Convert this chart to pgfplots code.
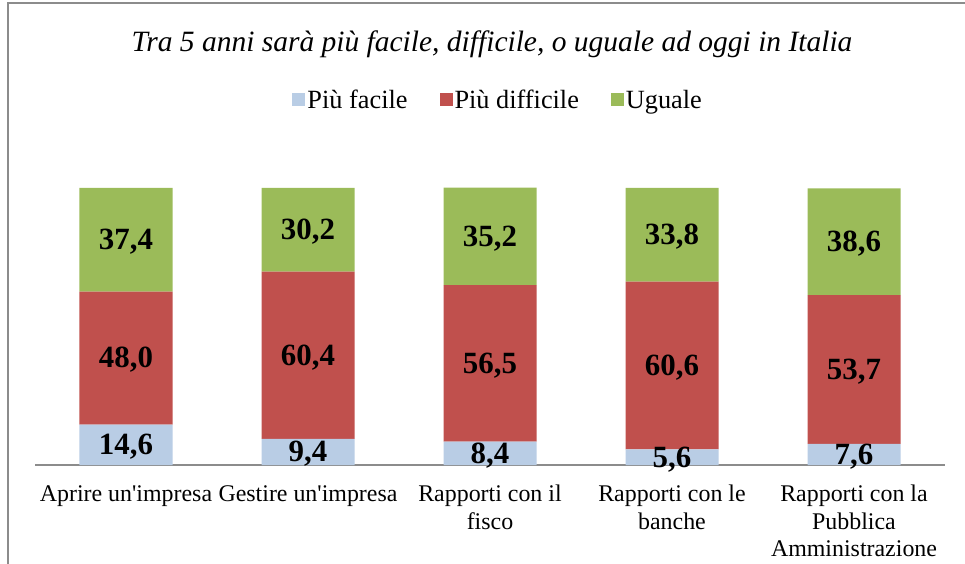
\documentclass[border=0pt]{standalone}
\usepackage{pgfplots}
\pgfplotsset{compat=1.18}
\usepackage{pgfplotstable}
\usepackage{fontspec}
\setmainfont{Liberation Serif}

\definecolor{facile}{HTML}{B9CDE5}
\definecolor{difficile}{HTML}{C0504D}
\definecolor{uguale}{HTML}{9BBB59}
\definecolor{bordo}{HTML}{8C8C8C}

% percentuali per categoria
\pgfplotstableread{
x facile difficile uguale
0 14.6 48.0 37.4
1 9.4  60.4 30.2
2 8.4  56.5 35.2
3 5.6  60.6 33.8
4 7.6  53.7 38.6
}\dati

\begin{document}
\begin{tikzpicture}
  \path[use as bounding box] (0,0) rectangle (965bp,564bp);
  \draw[bordo, line width=2bp] (8bp,0) -- (8bp,561bp) -- (966bp,561bp);

  \begin{axis}[
    at={(35bp,99bp)}, anchor=south west,
    scale only axis, width=910bp, height=277bp,
    ybar stacked, bar width=93bp,
    xmin=-0.5, xmax=4.5, ymin=0, ymax=100,
    axis x line=bottom, axis y line=none,
    axis line style={-, draw=bordo, line width=1.5bp},
    ytick=\empty,
    xtick={0,...,4},
    xticklabels={
      Aprire un\textquotesingle impresa,
      Gestire un\textquotesingle impresa,
      {Rapporti con il\\fisco},
      {Rapporti con le\\banche},
      {Rapporti con la\\Pubblica\\Amministrazione}},
    major tick length=0pt,
    xticklabel style={font=\fontsize{24}{27.5}\selectfont, align=center,
      inner sep=0pt, yshift=-20bp},
    /pgf/number format/assume math mode=true,
    point meta=explicit,
    nodes near coords={\pgfmathprintnumber[fixed,fixed zerofill,precision=1,use comma]{\pgfplotspointmeta}},
    every node near coord/.append style={font=\bfseries\fontsize{31}{31}\selectfont,
      anchor=center, text=black, yshift=-2bp},
    legend columns=3,
    legend style={draw=none, fill=none, at={(0.509,1)}, anchor=center, yshift=88bp,
      font=\fontsize{26.4}{28}\selectfont,
      /tikz/every even column/.append style={column sep=30bp}},
    legend image code/.code={\fill[#1] (0bp,-6.5bp) rectangle (13bp,6.5bp);},
    clip=false,
  ]
    \addplot[fill=facile, draw=none] table[x=x, y=facile, meta=facile] {\dati};
    \addplot[fill=difficile, draw=none] table[x=x, y=difficile, meta=difficile] {\dati};
    \addplot[fill=uguale, draw=none] table[x=x, y=uguale, meta=uguale] {\dati};
    \legend{Più facile, Più difficile, Uguale}
  \end{axis}

  \node[font=\itshape\fontsize{29.6}{32}\selectfont] at (492bp,520bp)
    {Tra 5 anni sarà più facile, difficile, o uguale ad oggi in Italia};
\end{tikzpicture}
\end{document}
